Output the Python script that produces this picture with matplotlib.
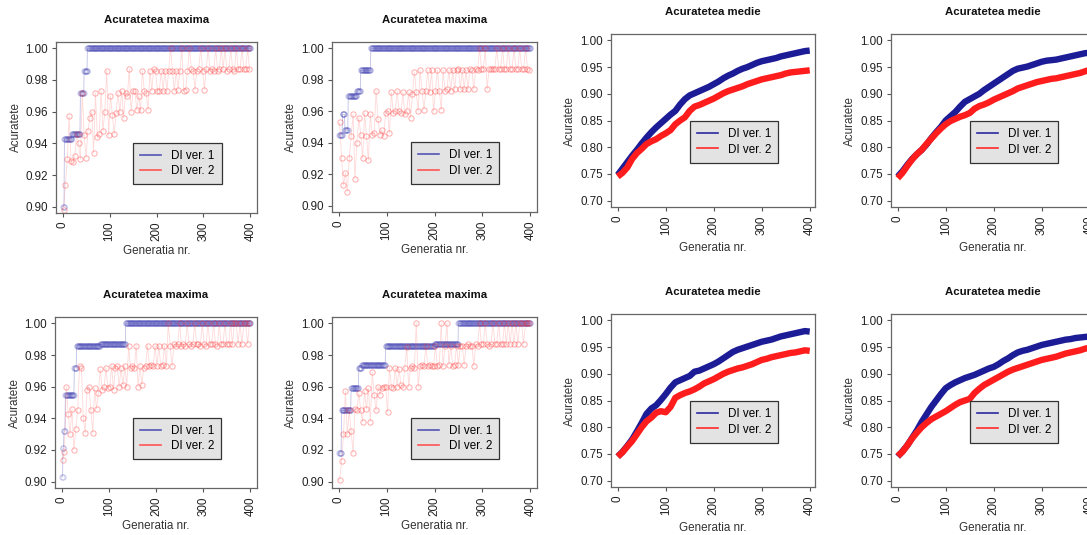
import numpy as np
import matplotlib
matplotlib.use("Agg")
import matplotlib.pyplot as plt
from matplotlib.lines import Line2D

plt.rcParams['font.family'] = ['Liberation Sans', 'DejaVu Sans']
plt.rcParams['font.size'] = 8.2

# --- date: acuratetea maxima (DI ver. 1 = trepte, DI ver. 2 = puncte la fiecare 4 generatii) ---
gen_all = np.arange(1, 401)
gen_red = np.arange(2, 401, 4)

max1_v1_start = [0, 4, 20, 38, 46, 53]
max1_v1_val = [0.900, 0.943, 0.946, 0.972, 0.986, 1.000]
max1_v2 = [0.898, 0.914, 0.930, 0.957, 0.929, 0.928, 0.932, 0.946, 0.940, 0.930,
           0.972, 0.945, 0.931, 0.948, 0.956, 0.960, 0.934, 0.972, 0.944, 0.946,
           0.973, 0.948, 0.960, 0.986, 0.945, 0.970, 0.958, 0.946, 0.959, 0.972,
           0.960, 0.973, 0.956, 0.972, 0.970, 0.987, 0.960, 0.973, 0.973, 0.961,
           0.970, 0.961, 0.986, 0.973, 0.972, 0.961, 0.986, 0.973, 0.987, 0.986,
           0.973, 0.973, 0.986, 0.973, 0.986, 0.973, 0.986, 1.000, 0.986, 0.973,
           0.986, 0.974, 0.986, 1.000, 0.973, 0.974, 0.986, 1.000, 0.987, 0.986,
           0.974, 0.986, 0.987, 1.000, 0.986, 0.974, 0.987, 1.000, 0.986, 0.987,
           0.986, 1.000, 0.986, 0.987, 1.000, 0.987, 1.000, 0.986, 0.987, 1.000,
           0.987, 0.986, 1.000, 0.987, 0.987, 1.000, 0.987, 0.987, 1.000, 0.987]

max2_v1_start = [0, 8, 13, 20, 38, 46, 67]
max2_v1_val = [0.945, 0.958, 0.948, 0.970, 0.973, 0.986, 1.000]
max2_v2 = [0.953, 0.930, 0.913, 0.921, 0.909, 0.930, 0.944, 0.958, 0.917, 0.940,
           0.956, 0.945, 0.930, 0.959, 0.944, 0.929, 0.958, 0.945, 0.946, 0.973,
           0.955, 0.945, 0.948, 0.944, 0.959, 0.960, 0.946, 0.972, 0.959, 0.960,
           0.973, 0.960, 0.959, 0.972, 0.958, 0.960, 0.972, 0.956, 0.971, 0.985,
           0.972, 0.960, 0.986, 0.973, 0.961, 0.973, 0.986, 0.972, 0.986, 0.960,
           0.973, 0.986, 0.973, 0.961, 0.986, 0.973, 0.974, 0.986, 0.973, 0.986,
           0.974, 0.986, 0.987, 0.974, 0.986, 0.974, 0.986, 0.974, 0.987, 0.986,
           0.974, 0.987, 0.986, 1.000, 0.987, 0.987, 1.000, 0.974, 0.987, 0.987,
           0.987, 0.987, 1.000, 0.987, 0.987, 1.000, 0.987, 0.987, 1.000, 0.987,
           0.987, 1.000, 0.987, 0.987, 1.000, 0.987, 0.987, 1.000, 0.987, 0.986]

max3_v1_start = [0, 3, 5, 8, 27, 32, 82, 136]
max3_v1_val = [0.903, 0.921, 0.932, 0.955, 0.972, 0.986, 0.987, 1.000]
max3_v2 = [0.914, 0.919, 0.960, 0.943, 0.930, 0.946, 0.920, 0.933, 0.945, 0.973,
           0.972, 0.940, 0.931, 0.958, 0.960, 0.945, 0.931, 0.959, 0.946, 0.956,
           0.971, 0.958, 0.960, 0.972, 0.959, 0.960, 0.973, 0.958, 0.972, 0.973,
           0.960, 0.972, 0.961, 0.973, 0.960, 0.986, 0.972, 0.973, 0.972, 0.986,
           0.960, 0.973, 0.961, 0.972, 0.973, 0.986, 0.973, 0.974, 0.973, 0.986,
           0.973, 0.986, 0.973, 0.974, 0.986, 0.973, 1.000, 0.986, 0.973, 0.987,
           0.986, 0.987, 1.000, 0.986, 0.987, 0.986, 1.000, 0.987, 0.986, 0.987,
           1.000, 0.987, 0.987, 0.986, 1.000, 0.987, 0.986, 1.000, 0.987, 0.987,
           1.000, 0.987, 0.986, 1.000, 0.987, 0.987, 1.000, 0.987, 0.987, 1.000,
           0.987, 1.000, 1.000, 0.987, 1.000, 0.987, 1.000, 1.000, 0.987, 1.000]

max4_v1_start = [0, 6, 26, 42, 48, 98, 200, 250]
max4_v1_val = [0.918, 0.945, 0.959, 0.972, 0.974, 0.986, 0.987, 1.000]
max4_v2 = [0.901, 0.913, 0.930, 0.957, 0.930, 0.945, 0.932, 0.918, 0.946, 0.945,
           0.956, 0.945, 0.938, 0.957, 0.946, 0.959, 0.938, 0.969, 0.955, 0.945,
           0.960, 0.955, 0.959, 0.960, 0.960, 0.944, 0.972, 0.960, 0.959, 0.972,
           0.960, 0.971, 0.961, 0.960, 0.972, 0.985, 0.960, 0.972, 0.973, 0.972,
           1.000, 0.960, 0.973, 0.974, 0.973, 0.986, 0.973, 0.974, 0.973, 0.973,
           0.986, 0.973, 0.974, 1.000, 0.973, 0.986, 1.000, 0.974, 0.986, 0.973,
           0.974, 0.986, 0.974, 0.986, 0.986, 0.974, 0.986, 0.987, 0.986, 0.986,
           0.973, 0.987, 0.986, 1.000, 0.987, 0.987, 1.000, 0.987, 0.986, 0.987,
           1.000, 0.987, 0.987, 1.000, 0.987, 0.987, 1.000, 0.987, 1.000, 0.987,
           1.000, 0.987, 1.000, 0.987, 1.000, 1.000, 0.987, 1.000, 1.000, 1.000]

# --- date: acuratetea medie (la fiecare 10 generatii) ---
gen_mean = np.arange(0, 401, 10)

mean1_v1 = [0.748, 0.760, 0.772, 0.784, 0.795, 0.807, 0.818, 0.828, 0.837, 0.845,
            0.853, 0.861, 0.868, 0.880, 0.890, 0.897, 0.901, 0.905, 0.909, 0.913,
            0.918, 0.923, 0.929, 0.934, 0.938, 0.943, 0.947, 0.950, 0.954, 0.958,
            0.961, 0.963, 0.965, 0.967, 0.970, 0.972, 0.974, 0.976, 0.978, 0.980, 0.981]
mean1_v2 = [0.745, 0.752, 0.762, 0.778, 0.789, 0.797, 0.806, 0.811, 0.815, 0.821,
            0.826, 0.832, 0.843, 0.850, 0.856, 0.868, 0.876, 0.879, 0.883, 0.887,
            0.891, 0.896, 0.901, 0.905, 0.908, 0.911, 0.914, 0.918, 0.921, 0.924,
            0.927, 0.929, 0.931, 0.933, 0.935, 0.938, 0.940, 0.941, 0.942, 0.943, 0.944]

mean2_v1 = [0.745, 0.755, 0.767, 0.778, 0.787, 0.795, 0.805, 0.817, 0.828, 0.838,
            0.850, 0.858, 0.866, 0.876, 0.885, 0.890, 0.895, 0.900, 0.907, 0.913,
            0.919, 0.925, 0.931, 0.937, 0.943, 0.947, 0.949, 0.951, 0.954, 0.957,
            0.960, 0.962, 0.963, 0.964, 0.966, 0.968, 0.970, 0.972, 0.974, 0.976, 0.977]
mean2_v2 = [0.742, 0.752, 0.765, 0.777, 0.787, 0.795, 0.806, 0.816, 0.826, 0.835,
            0.843, 0.849, 0.853, 0.857, 0.860, 0.864, 0.872, 0.877, 0.880, 0.884,
            0.889, 0.893, 0.897, 0.901, 0.905, 0.910, 0.913, 0.916, 0.919, 0.922,
            0.924, 0.926, 0.928, 0.929, 0.931, 0.933, 0.935, 0.937, 0.939, 0.942, 0.945]

mean3_v1 = [0.745, 0.754, 0.765, 0.777, 0.792, 0.808, 0.825, 0.835, 0.841, 0.851,
            0.862, 0.874, 0.884, 0.888, 0.892, 0.896, 0.904, 0.906, 0.910, 0.914,
            0.918, 0.923, 0.929, 0.935, 0.941, 0.945, 0.948, 0.951, 0.954, 0.957,
            0.960, 0.962, 0.964, 0.967, 0.970, 0.972, 0.974, 0.976, 0.978, 0.980, 0.979]
mean3_v2 = [0.745, 0.753, 0.764, 0.774, 0.787, 0.800, 0.811, 0.818, 0.827, 0.830,
            0.828, 0.838, 0.855, 0.860, 0.864, 0.867, 0.871, 0.876, 0.882, 0.886,
            0.890, 0.895, 0.900, 0.904, 0.907, 0.910, 0.912, 0.915, 0.918, 0.922,
            0.926, 0.928, 0.931, 0.933, 0.935, 0.937, 0.939, 0.940, 0.942, 0.944, 0.943]

mean4_v1 = [0.745, 0.755, 0.766, 0.780, 0.794, 0.810, 0.824, 0.838, 0.850, 0.862,
            0.873, 0.879, 0.884, 0.888, 0.892, 0.895, 0.898, 0.902, 0.906, 0.910,
            0.913, 0.918, 0.924, 0.929, 0.935, 0.940, 0.943, 0.945, 0.948, 0.951,
            0.954, 0.956, 0.958, 0.960, 0.962, 0.964, 0.965, 0.967, 0.968, 0.969, 0.970]
mean4_v2 = [0.746, 0.754, 0.766, 0.779, 0.790, 0.800, 0.808, 0.815, 0.820, 0.825,
            0.830, 0.836, 0.842, 0.847, 0.850, 0.853, 0.864, 0.872, 0.879, 0.884,
            0.889, 0.894, 0.899, 0.904, 0.908, 0.911, 0.914, 0.917, 0.920, 0.923,
            0.926, 0.928, 0.930, 0.932, 0.935, 0.938, 0.940, 0.942, 0.944, 0.947, 0.949]

x_ticks = [0, 100, 200, 300, 400]
max_yticks = [0.90, 0.92, 0.94, 0.96, 0.98, 1.00]
mean_yticks = [0.70, 0.75, 0.80, 0.85, 0.90, 0.95, 1.00]
labels = ["DI ver. 1", "DI ver. 2"]

W, H = 1087, 535
fig = plt.figure(figsize=(W / 100, H / 100), dpi=100)


def box(l, t, r, b):
    # pozitie in pixeli -> coordonate figura
    return [l / W, 1 - b / H, (r - l) / W, (b - t) / H]


def style_axes(ax, yticks, title, ylab_x, xlab_y):
    ax.set_xticks(x_ticks)
    ax.set_yticks(yticks)
    ax.set_yticklabels([f"{v:.2f}" for v in yticks])
    ax.tick_params(axis='x', labelrotation=90)
    ax.tick_params(direction='out', length=3, width=0.8, pad=3, labelsize=8.4,
                   color='#555555', labelcolor='#222222')
    for s in ax.spines.values():
        s.set_color('#666666')
        s.set_linewidth(0.9)
    ax.set_title(title, fontweight='bold', fontsize=8.2, pad=14, color='#111111')
    ax.set_xlabel("Generatia nr.", color='#333333', fontsize=8.4, va='center')
    ax.set_ylabel("Acuratete", color='#333333', fontsize=8.4, va='center')
    ax.yaxis.set_label_coords(ylab_x, 0.5)
    ax.xaxis.set_label_coords(0.5, xlab_y)


def add_legend(ax, x0, y1, c1, c2):
    handles = [Line2D([], [], color=c1, lw=1.2), Line2D([], [], color=c2, lw=1.2)]
    leg = ax.legend(handles, labels, loc='upper left', bbox_to_anchor=(x0, y1),
                    borderaxespad=0, fancybox=False, facecolor='#e3e3e3',
                    edgecolor='#333333', framealpha=1, handlelength=1.8,
                    handletextpad=0.85, borderpad=0.6, labelspacing=0.3,
                    fontsize=8.4)
    leg.get_frame().set_linewidth(0.9)


def plot_max(pos, starts, vals, red):
    ax = fig.add_axes(box(*pos))
    idx = np.searchsorted(starts, gen_all, side='right') - 1
    blue = np.array(vals)[idx]
    ax.plot(gen_all, blue, color='#4a4ab8', lw=0.6, alpha=0.35)
    ax.plot(gen_all, blue, 'o', ms=3.8, mfc='none', mec='#4a4ab8', mew=0.7, alpha=0.25)
    ax.plot(gen_red, red, color='#ff5050', lw=0.6, alpha=0.22)
    ax.plot(gen_red, red, 'o', ms=3.8, mfc='none', mec='#ff3030', mew=0.7, alpha=0.4)
    ax.set_xlim(-14, 414)
    ax.set_ylim(0.896, 1.004)
    style_axes(ax, max_yticks, "Acuratetea maxima", -0.20, -0.225)
    add_legend(ax, 0.385, 0.41, '#5555b5', '#ff5555')


def plot_mean(pos, v1, v2):
    ax = fig.add_axes(box(*pos))
    ax.plot(gen_mean, v1, color='#1c1c96', lw=4.6, solid_capstyle='butt')
    ax.plot(gen_mean, v2, color='#ff1c1c', lw=4.6, solid_capstyle='butt')
    ax.set_xlim(-14, 411)
    ax.set_ylim(0.688, 1.012)
    style_axes(ax, mean_yticks, "Acuratetea medie", -0.20, -0.237)
    add_legend(ax, 0.387, 0.497, '#2a2aa0', '#ff2a2a')


plot_max((56, 42, 257, 213), max1_v1_start, max1_v1_val, max1_v2)
plot_max((332, 42, 537, 212), max2_v1_start, max2_v1_val, max2_v2)
plot_max((55, 317, 257, 488), max3_v1_start, max3_v1_val, max3_v2)
plot_max((332, 317, 537, 488), max4_v1_start, max4_v1_val, max4_v2)

plot_mean((611, 34, 815, 207), mean1_v1, mean1_v2)
plot_mean((891, 34, 1095, 207), mean2_v1, mean2_v2)
plot_mean((611, 314, 815, 487), mean3_v1, mean3_v2)
plot_mean((891, 314, 1095, 487), mean4_v1, mean4_v2)

fig.savefig("out.png", dpi=100)
